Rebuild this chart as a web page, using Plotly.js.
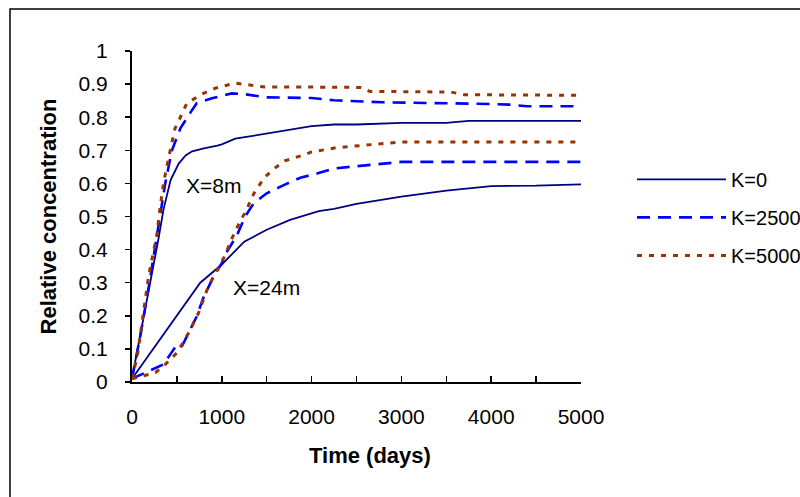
<!DOCTYPE html>
<html>
<head>
<meta charset="utf-8">
<script src="https://cdn.plot.ly/plotly-3.0.1.min.js"></script>
<style>html,body{margin:0;padding:0;background:#fff;}#chart{width:800px;height:497px;}</style>
</head>
<body>
<div id="chart"></div>
<script>
// X = 8 m
const t8_k0 = [0, 100, 200, 300, 350, 430, 520, 600, 670, 800, 950, 1000, 1150, 1500, 1750, 2000, 2250, 2500, 3000, 3500, 3750, 5000];
const c8_k0 = [0.01, 0.15, 0.30, 0.44, 0.52, 0.61, 0.66, 0.685, 0.697, 0.706, 0.714, 0.718, 0.735, 0.75, 0.762, 0.773, 0.778, 0.778, 0.783, 0.783, 0.789, 0.789];
const t8_k2500 = [0, 100, 200, 280, 315, 370, 445, 540, 670, 720, 890, 1000, 1110, 1240, 1370, 1500, 2000, 2250, 2800, 3500, 4000, 4200, 4400, 5000];
const c8_k2500 = [0.01, 0.15, 0.31, 0.44, 0.50, 0.60, 0.70, 0.767, 0.822, 0.842, 0.857, 0.865, 0.872, 0.870, 0.864, 0.86, 0.858, 0.851, 0.845, 0.843, 0.840, 0.838, 0.833, 0.833];
const t8_k5000 = [0, 60, 185, 280, 300, 350, 410, 480, 560, 610, 780, 930, 1150, 1280, 1480, 2000, 2550, 2650, 3550, 3700, 5000];
const c8_k5000 = [0.01, 0.08, 0.32, 0.45, 0.50, 0.60, 0.68, 0.767, 0.812, 0.842, 0.87, 0.888, 0.903, 0.898, 0.891, 0.891, 0.89, 0.878, 0.876, 0.868, 0.866];
// X = 24 m
const t24_k0 = [0, 250, 500, 760, 1000, 1250, 1500, 1760, 2080, 2250, 2500, 3000, 3500, 4000, 4500, 5000];
const c24_k0 = [0.01, 0.105, 0.20, 0.30, 0.355, 0.424, 0.46, 0.49, 0.516, 0.523, 0.538, 0.56, 0.578, 0.592, 0.593, 0.597];
const t24_k2500 = [0, 240, 350, 430, 480, 530, 560, 630, 720, 800, 910, 1000, 1060, 1170, 1260, 1355, 1500, 1690, 1875, 2060, 2250, 2500, 3000, 5000];
const c24_k2500 = [0.01, 0.038, 0.053, 0.085, 0.105, 0.10, 0.11, 0.148, 0.198, 0.258, 0.319, 0.359, 0.395, 0.444, 0.50, 0.54, 0.57, 0.595, 0.617, 0.63, 0.645, 0.652, 0.665, 0.665];
const t24_k5000 = [0, 260, 370, 500, 630, 740, 850, 950, 1000, 1040, 1095, 1150, 1210, 1280, 1320, 1370, 1430, 1485, 1600, 1700, 1900, 2000, 2280, 2760, 3000, 5000];
const c24_k5000 = [0.01, 0.028, 0.053, 0.088, 0.148, 0.208, 0.289, 0.339, 0.365, 0.384, 0.424, 0.454, 0.489, 0.52, 0.55, 0.576, 0.60, 0.621, 0.648, 0.668, 0.685, 0.695, 0.708, 0.72, 0.725, 0.725];

const seriesNames = ['K=0', 'K=2500', 'K=5000'];
const xTickVals = [0, 500, 1000, 1500, 2000, 2500, 3000, 3500, 4000, 4500, 5000];
const xTickText = ['0', '', '1000', '', '2000', '', '3000', '', '4000', '', '5000'];
const yTickVals = [0, 0.1, 0.2, 0.3, 0.4, 0.5, 0.6, 0.7, 0.8, 0.9, 1];
const yTickText = ['0', '0.1', '0.2', '0.3', '0.4', '0.5', '0.6', '0.7', '0.8', '0.9', '1'];
const labels = [{text: 'X=8m', t: 580, c: 0.595}, {text: 'X=24m', t: 1100, c: 0.285}];

const styles = [
  {color: '#000080', width: 1.8, dash: 'solid'},
  {color: '#0000FF', width: 2.6, dash: '13px,8px'},
  {color: '#993300', width: 3, dash: '5px,7px'}
];
const sets = [[t8_k0, c8_k0, t24_k0, c24_k0], [t8_k2500, c8_k2500, t24_k2500, c24_k2500], [t8_k5000, c8_k5000, t24_k5000, c24_k5000]];
const traces = [];
sets.forEach((s, i) => {
  traces.push({x: s[0], y: s[1], type: 'scatter', mode: 'lines', name: seriesNames[i], legendgroup: 'g' + i, showlegend: true, line: styles[i], hoverinfo: 'skip'});
  traces.push({x: s[2], y: s[3], type: 'scatter', mode: 'lines', name: seriesNames[i], legendgroup: 'g' + i, showlegend: false, line: styles[i], hoverinfo: 'skip'});
});

const font = 'Liberation Sans, Arial, sans-serif';
const annots = labels.map(l => ({x: l.t, y: l.c, xref: 'x', yref: 'y', text: l.text, showarrow: false, xanchor: 'left', yanchor: 'middle', font: {family: font, size: 21, color: '#000'}}));
annots.push({x: 0.530, y: -0.2217, xref: 'paper', yref: 'paper', text: '<b>Time (days)</b>', showarrow: false, xanchor: 'center', yanchor: 'middle', font: {family: font, size: 22, color: '#000'}});

const layout = {
  width: 800, height: 497,
  margin: {l: 132, r: 219, t: 51, b: 115, autoexpand: false},
  paper_bgcolor: '#ffffff', plot_bgcolor: '#ffffff',
  font: {family: font, size: 20, color: '#000'},
  showlegend: true,
  legend: {x: 1.1136, y: 0.671, xanchor: 'left', yanchor: 'top', font: {family: font, size: 20, color: '#000'}, traceorder: 'grouped', tracegroupgap: 9, itemwidth: 89, bgcolor: 'rgba(0,0,0,0)'},
  xaxis: {range: [0, 5000], tickmode: 'array', tickvals: xTickVals, ticktext: xTickText, ticks: 'inside', ticklen: 6, tickwidth: 1.5, tickcolor: '#000', showline: true, linecolor: '#000', linewidth: 2, showgrid: false, zeroline: false, tickfont: {family: font, size: 21}, ticklabelstandoff: 15, fixedrange: true},
  yaxis: {range: [0, 1], tickmode: 'array', tickvals: yTickVals, ticktext: yTickText, ticks: 'outside', ticklen: 5, tickwidth: 1.5, tickcolor: '#000', showline: true, linecolor: '#000', linewidth: 2, showgrid: false, zeroline: false, tickfont: {family: font, size: 21}, ticklabelstandoff: 13, fixedrange: true,
    title: {text: '<b>Relative concentration</b>', font: {family: font, size: 22}, standoff: 16}},
  annotations: annots,
  shapes: [{type: 'rect', xref: 'paper', yref: 'paper', x0: -0.2717, x1: 1.6, y0: -0.6, y1: 1.1267, line: {color: '#000', width: 1.5}, fillcolor: 'rgba(0,0,0,0)', layer: 'below'}]
};
Plotly.newPlot('chart', traces, layout, {displayModeBar: false, staticPlot: true});
</script>
</body>
</html>
